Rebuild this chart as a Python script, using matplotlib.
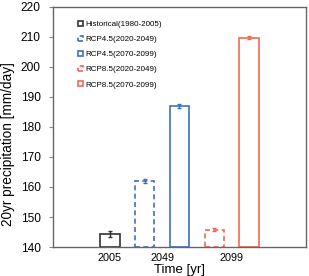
import matplotlib.pyplot as plt
import numpy as np

plt.rcParams['font.family'] = ['Liberation Sans', 'DejaVu Sans']

# bar data
labels = ['Historical(1980-2005)', 'RCP4.5(2020-2049)', 'RCP4.5(2070-2099)',
          'RCP8.5(2020-2049)', 'RCP8.5(2070-2099)']
values = [144.2, 162.0, 187.0, 145.8, 209.8]
errors = [1.0, 0.6, 0.7, 0.6, 0.6]
colors = ['#333333', '#3f6fc0', '#3f6fc0', '#f26a55', '#f26a55']
styles = ['solid', (0, (3, 2)), 'solid', (0, (3, 2)), 'solid']
tick_pos = [0, 1.5, 3.5]
tick_labels = ['2005', '2049', '2099']

fig = plt.figure(figsize=(3.09, 2.76), dpi=100)
ax = fig.add_axes([0.1715, 0.105, 0.8185, 0.870])

x = np.arange(len(values))
for i in range(len(values)):
    ax.bar(x[i], values[i] - 140, bottom=140, width=0.56, fill=False,
           edgecolor=colors[i], linewidth=1.2, linestyle=styles[i],
           label=labels[i])
    ax.errorbar(x[i], values[i], yerr=errors[i], color=colors[i],
                capsize=1.5, elinewidth=1, capthick=1)

ax.set_ylim(140, 220)
ax.set_xlim(-1.63, 5.63)
ax.set_yticks(np.arange(140, 221, 10))
ax.set_xticks(tick_pos)
ax.set_xticklabels(tick_labels)
ax.tick_params(axis='y', labelsize=8.6, length=3, color='#888888', pad=6)
ax.tick_params(axis='x', labelsize=7.8, length=0, pad=4)
for s in ax.spines.values():
    s.set_color('#666666')
    s.set_linewidth(1)

ax.set_ylabel('20yr precipitation [mm/day]', fontsize=9.8)
ax.yaxis.set_label_coords(-0.15, 0.43)
ax.set_xlabel('Time [yr]', fontsize=9.5, labelpad=1)

leg = ax.legend(loc='upper left', bbox_to_anchor=(0.085, 0.955), frameon=False,
                fontsize=5.8, handlelength=0.6, handleheight=0.6,
                handletextpad=0.35, labelspacing=0.95, borderaxespad=0)

fig.savefig('out.png', dpi=100)
